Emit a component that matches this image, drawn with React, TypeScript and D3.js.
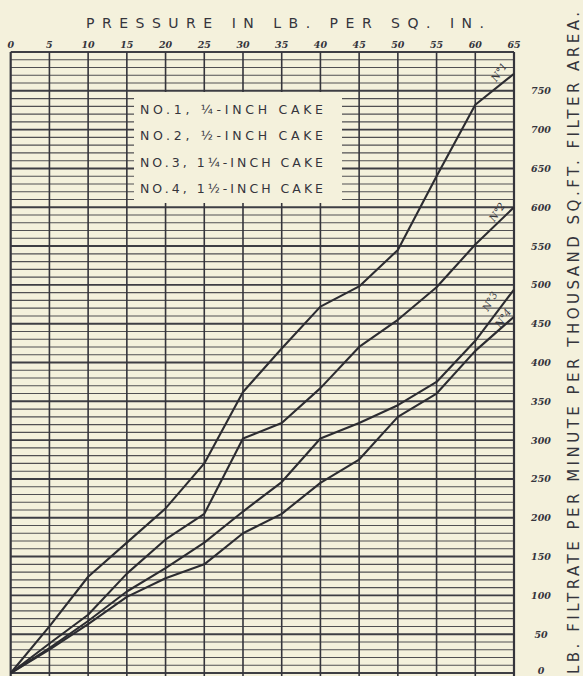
import * as d3 from "d3";

// pressure, lb per sq. in.
const pressures = [0, 5, 10, 15, 20, 25, 30, 35, 40, 45, 50, 55, 60, 65];

// lb filtrate per minute per 1000 sq.ft.
const cake1 = [0, 60, 124, 168, 212, 270, 362, 418, 472, 498, 545, 640, 732, 772];
const cake2 = [0, 38, 75, 128, 172, 205, 302, 322, 367, 420, 455, 497, 552, 600];
const cake3 = [0, 32, 67, 105, 135, 168, 208, 246, 302, 322, 345, 375, 428, 494];
const cake4 = [0, 30, 63, 98, 122, 140, 180, 205, 245, 275, 330, 360, 415, 459];

const series = [
  { name: "N°1", values: cake1 },
  { name: "N°2", values: cake2 },
  { name: "N°3", values: cake3 },
  { name: "N°4", values: cake4 },
];

const legendItems = [
  "NO.1, ¼-INCH CAKE",
  "NO.2, ½-INCH CAKE",
  "NO.3, 1¼-INCH CAKE",
  "NO.4, 1½-INCH CAKE",
];

const xTicks = d3.range(0, 66, 5);
const yTicks = d3.range(0, 751, 50);

const W = 583;
const H = 676;
const ink = "#35353c";
const paper = "#f4f1dc";

export default function App() {
  const x = d3.scaleLinear().domain([0, 65]).range([10.7, 514]);
  const y = d3.scaleLinear().domain([0, 800]).range([673, 52]);

  const line = d3
    .line<number>()
    .x((_, i) => x(pressures[i]))
    .y((d) => y(d));

  const hLines = d3.range(0, 801, 10);

  // blank panel for the key
  const box = { x0: 134, x1: 342, y0: 92, y1: 203 };

  // hand lettered curve labels near the right edge
  const tags = [
    { t: "N°1", x: 502, y: 74, r: -55 },
    { t: "N°2", x: 500, y: 214, r: -55 },
    { t: "N°3", x: 493, y: 303, r: -60 },
    { t: "N°4", x: 506, y: 320, r: -55 },
  ];

  return (
    <svg
      width={W}
      height={H}
      style={{ position: "absolute", left: 0, top: 0, background: paper }}
    >
      <rect width={W} height={H} fill={paper} />

      {/* horizontal rules */}
      {hLines.map((v) => (
        <line
          key={"h" + v}
          x1={x(0)}
          x2={x(65)}
          y1={y(v)}
          y2={y(v)}
          stroke={ink}
          strokeWidth={v % 50 === 0 ? 1.9 : 1.1}
          opacity={v % 50 === 0 ? 0.95 : 0.85}
        />
      ))}

      {/* vertical rules */}
      {xTicks.map((p) => (
        <line
          key={"v" + p}
          x1={x(p)}
          x2={x(p)}
          y1={y(800)}
          y2={H}
          stroke={ink}
          strokeWidth={p === 0 || p === 65 ? 2.2 : 1.6}
        />
      ))}

      {/* key panel */}
      <rect
        x={box.x0}
        y={box.y0}
        width={box.x1 - box.x0}
        height={box.y1 - box.y0}
        fill={paper}
      />
      {legendItems.map((t, i) => (
        <text
          key={t}
          x={140}
          y={113.5 + i * 26.5}
          textLength={183}
          lengthAdjust="spacing"
          fontFamily="DejaVu Sans, sans-serif"
          fontSize={12.5}
          fill={ink}
        >
          {t}
        </text>
      ))}

      {/* curves */}
      {series.map((s) => (
        <path
          key={s.name}
          d={line(s.values) ?? ""}
          fill="none"
          stroke="#2c2c31"
          strokeWidth={2.1}
          strokeLinejoin="round"
        />
      ))}

      {tags.map((g) => (
        <text
          key={g.t}
          transform={`translate(${g.x},${g.y}) rotate(${g.r})`}
          textAnchor="middle"
          fontFamily="DejaVu Serif, serif"
          fontStyle="italic"
          fontSize={10}
          fill={ink}
        >
          {g.t}
        </text>
      ))}

      {/* top scale */}
      {xTicks.map((p) => (
        <text
          key={"xt" + p}
          x={x(p)}
          y={48}
          textAnchor="middle"
          fontFamily="DejaVu Serif, serif"
          fontStyle="italic"
          fontWeight="bold"
          fontSize={9.5}
          fill={ink}
        >
          {p}
        </text>
      ))}
      <text
        x={86}
        y={28}
        textLength={398}
        lengthAdjust="spacing"
        fontFamily="DejaVu Sans, sans-serif"
        fontSize={14}
        fill={ink}
      >
        PRESSURE IN LB. PER SQ. IN.
      </text>

      {/* right scale */}
      {yTicks.map((v) => (
        <text
          key={"yt" + v}
          x={541}
          y={Math.min(y(v) + 3.5, 674)}
          textAnchor="middle"
          fontFamily="DejaVu Serif, serif"
          fontStyle="italic"
          fontWeight="bold"
          fontSize={9.5}
          fill={ink}
        >
          {v}
        </text>
      ))}
      <text
        transform="translate(579,674) rotate(-90)"
        textLength={662}
        lengthAdjust="spacing"
        fontFamily="DejaVu Sans, sans-serif"
        fontSize={15}
        fill={ink}
      >
        LB. FILTRATE PER MINUTE PER THOUSAND SQ.FT. FILTER AREA.
      </text>
    </svg>
  );
}
